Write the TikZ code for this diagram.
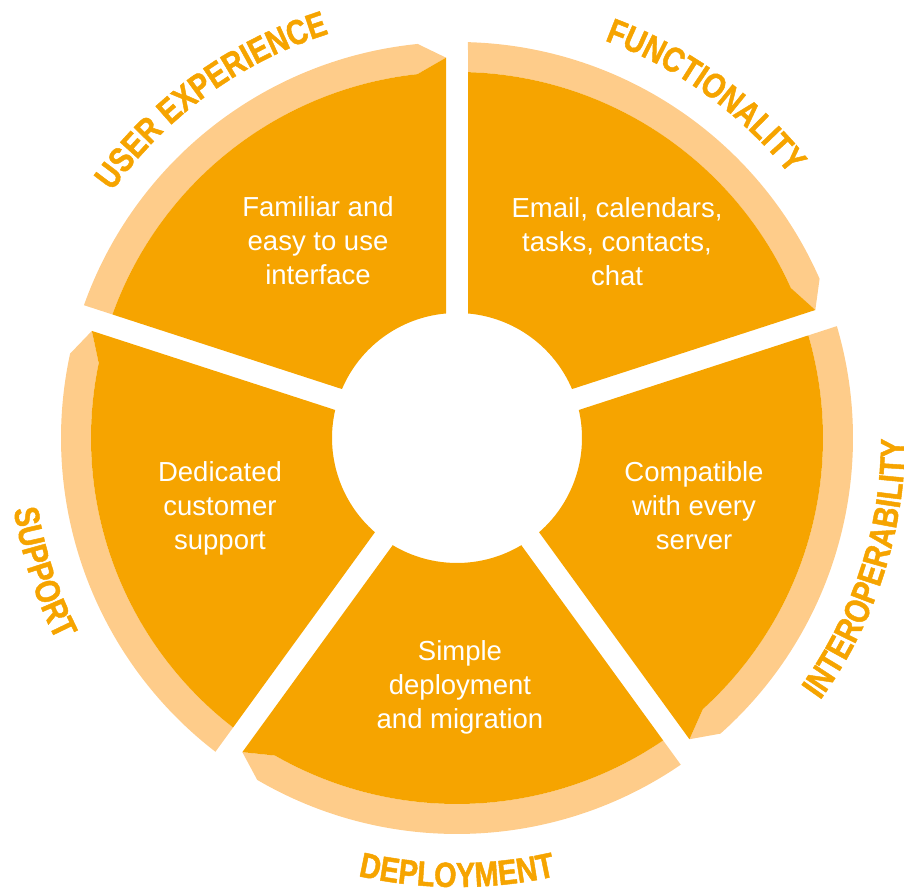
\documentclass[tikz,border=0pt]{standalone}
\usepackage{fontspec}
\setmainfont{Liberation Sans}
\newfontfamily\labfont[FakeStretch=0.82,FakeBold=1.3]{Liberation Sans}
\usetikzlibrary{decorations.text}
\definecolor{darkor}{RGB}{246,164,0}
\definecolor{lightor}{RGB}{254,204,138}
\tikzset{
  bodytext/.style={text=white, align=center, anchor=base, inner sep=0pt,
    font=\fontsize{27.5}{34}\selectfont},
  toplabel/.style={decorate, decoration={text along path, text align=center,
    text={|\labfont\bfseries\fontsize{35}{35}\selectfont\color{darkor}|#1}}},
}
\begin{document}
\begin{tikzpicture}[x=1pt,y=1pt]
\useasboundingbox (0,0) rectangle (904,890);
\begin{scope}[shift={(457,452)}]
\foreach \g in {90,18,-54,-126,-198} {
  \pgfmathsetmacro\s{\g+72}
  \fill[lightor] ({\s-1.722}:366) -- ({\s-1.592}:396)
    arc[start angle={\s-1.592}, end angle={\g+5.7}, radius=396]
    -- ({\g+1.656}:380.5) -- ({\g+6.2}:366)
    arc[start angle={\g+6.2}, end angle={\s-1.722}, radius=366] -- cycle;
  \fill[darkor] ({\s-5.048}:125) -- ({\s-1.722}:366)
    arc[start angle={\s-1.722}, end angle={\g+6.2}, radius=366]
    -- ({\g+1.656}:380.5) -- ({\g+5.048}:125)
    arc[start angle={\g+5.048}, end angle={\s-5.048}, radius=125] -- cycle;
}
% curved labels
\path[toplabel={USER EXPERIENCE}] (186:424) arc[start angle=186, end angle=66, radius=424];
\path[toplabel={FUNCTIONALITY}] (114:424) arc[start angle=114, end angle=-6, radius=424];
\path[toplabel={INTEROPERABILITY}] (-78:448) arc[start angle=-78, end angle=42, radius=448];
\path[toplabel={DEPLOYMENT}] (-150:449) arc[start angle=-150, end angle=-30, radius=449];
\path[toplabel={SUPPORT}] (138:449) arc[start angle=138, end angle=258, radius=449];
\end{scope}
\node[bodytext] (ux) at (318,605) {Familiar and\\easy to use\\interface};
\node[bodytext] (fn) at (617,604) {Email, calendars,\\tasks, contacts,\\chat};
\node[bodytext] (io) at (694,340) {Compatible\\with every\\server};
\node[bodytext] (dp) at (460,161) {Simple\\deployment\\and migration};
\node[bodytext] (sp) at (220,340) {Dedicated\\customer\\support};
\end{tikzpicture}
\end{document}
